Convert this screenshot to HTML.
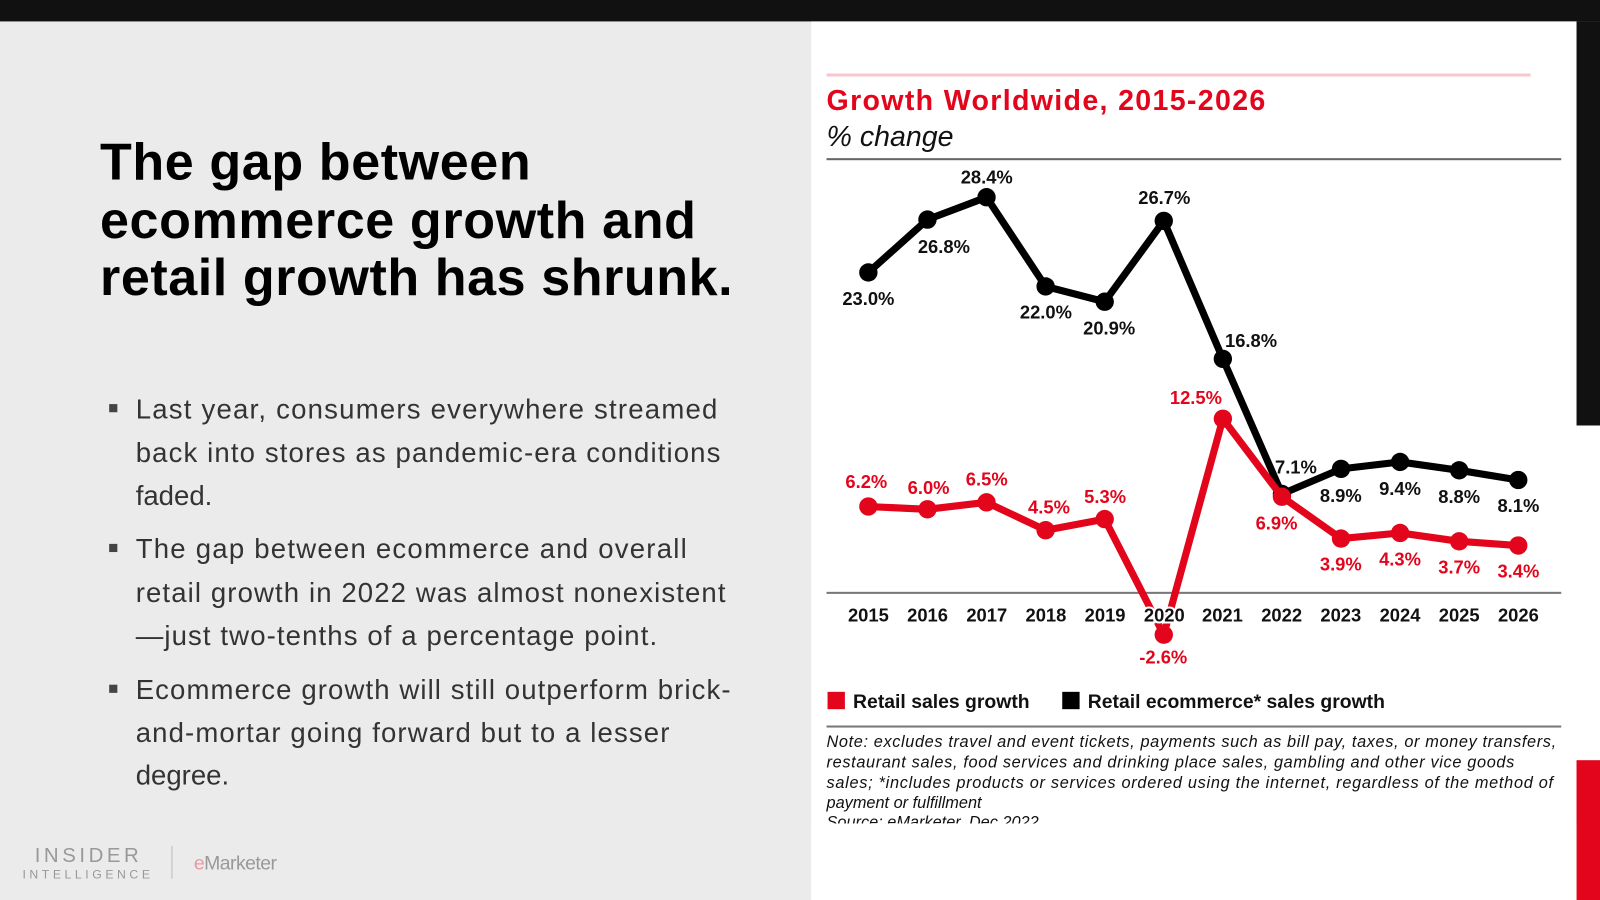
<!DOCTYPE html>
<html><head><meta charset="utf-8"><style>html,body{margin:0;padding:0;background:#ebebeb}svg{display:block}</style></head><body>
<svg width="1600" height="900" viewBox="0 0 1568 882" xmlns="http://www.w3.org/2000/svg" font-family="Liberation Sans, sans-serif">
<rect x="0" y="0" width="1568" height="882" fill="#ebebeb"/>
<rect x="0" y="0" width="1568" height="21" fill="#111"/>
<rect x="795" y="21" width="750" height="861" fill="#fff"/>
<rect x="1545" y="21" width="23" height="396" fill="#111"/>
<rect x="1545" y="417" width="23" height="328" fill="#fff"/>
<rect x="1545" y="745" width="23" height="137" fill="#e3051b"/>

<g font-weight="bold" font-size="51" fill="#000">
<text x="98" y="176" textLength="422">The gap between</text>
<text x="98" y="233" textLength="584">ecommerce growth and</text>
<text x="98" y="289" textLength="620">retail growth has shrunk.</text>
</g>
<g font-size="27" fill="#333">
<rect x="107" y="396" width="8" height="8" fill="#444"/>
<text x="133" y="410" textLength="570">Last year, consumers everywhere streamed</text>
<text x="133" y="453" textLength="573">back into stores as pandemic-era conditions</text>
<text x="133" y="495">faded.</text>
<rect x="107" y="533" width="8" height="8" fill="#444"/>
<text x="133" y="547" textLength="540">The gap between ecommerce and overall</text>
<text x="133" y="590" textLength="578">retail growth in 2022 was almost nonexistent</text>
<text x="133" y="632" textLength="511">—just two-tenths of a percentage point.</text>
<rect x="107" y="671" width="8" height="8" fill="#444"/>
<text x="133" y="685" textLength="583">Ecommerce growth will still outperform brick-</text>
<text x="133" y="727" textLength="523">and-mortar going forward but to a lesser</text>
<text x="133" y="769">degree.</text>
</g>
<g fill="#999">
<text x="34" y="845" font-size="20" textLength="102" lengthAdjust="spacing">INSIDER</text>
<text x="22" y="861" font-size="12" textLength="125" lengthAdjust="spacing">INTELLIGENCE</text>
<rect x="168" y="829" width="1" height="32" fill="#bbb"/>
<text x="190" y="852" font-size="19" fill="#e89aa0" letter-spacing="-0.5">e<tspan fill="#999">Marketer</tspan></text>
</g>

<!-- chart header -->
<rect x="810" y="72" width="690" height="3" fill="#f7c7cc"/>
<text x="810" y="108" font-size="28" font-weight="bold" fill="#e3051b" textLength="430">Growth Worldwide, 2015-2026</text>
<text x="810" y="143" font-size="28" font-style="italic" fill="#111">% change</text>
<rect x="810" y="155" width="720" height="2" fill="#666"/>

<rect x="810" y="580" width="720" height="2" fill="#777"/>

<polyline fill="none" stroke="#000" stroke-width="7" stroke-linejoin="round" points="851,267 908.9,215.2 966.8,193.3 1024.7,280.7 1082.6,295.7 1140.5,216.5 1198.4,351.7 1256.3,484.1 1314.2,459.5 1372.1,452.7 1430,460.9 1487.9,470.4"/>
<g fill="#000">
<circle cx="851" cy="267" r="9"/><circle cx="908.9" cy="215.2" r="9"/><circle cx="966.8" cy="193.3" r="9"/><circle cx="1024.7" cy="280.7" r="9"/><circle cx="1082.6" cy="295.7" r="9"/><circle cx="1140.5" cy="216.5" r="9"/><circle cx="1198.4" cy="351.7" r="9"/><circle cx="1256.3" cy="484.1" r="9"/><circle cx="1314.2" cy="459.5" r="9"/><circle cx="1372.1" cy="452.7" r="9"/><circle cx="1430" cy="460.9" r="9"/><circle cx="1487.9" cy="470.4" r="9"/>
</g>
<polyline fill="none" stroke="#e3051b" stroke-width="7" stroke-linejoin="round" points="851,496.4 908.9,499.1 966.8,492.3 1024.7,519.6 1082.6,508.7 1140.5,622 1198.4,410.4 1256.3,486.8 1314.2,527.8 1372.1,522.3 1430,530.5 1487.9,534.6"/>
<g fill="#e3051b">
<circle cx="851" cy="496.4" r="9"/><circle cx="908.9" cy="499.1" r="9"/><circle cx="966.8" cy="492.3" r="9"/><circle cx="1024.7" cy="519.6" r="9"/><circle cx="1082.6" cy="508.7" r="9"/><circle cx="1140.5" cy="622" r="9"/><circle cx="1198.4" cy="410.4" r="9"/><circle cx="1256.3" cy="486.8" r="9"/><circle cx="1314.2" cy="527.8" r="9"/><circle cx="1372.1" cy="522.3" r="9"/><circle cx="1430" cy="530.5" r="9"/><circle cx="1487.9" cy="534.6" r="9"/>
</g>

<g font-size="18" font-weight="bold" text-anchor="middle" fill="#111" stroke="#fff" stroke-width="4" paint-order="stroke">
<text x="851" y="609">2015</text><text x="909" y="609">2016</text><text x="967" y="609">2017</text><text x="1025" y="609">2018</text><text x="1083" y="609">2019</text><text x="1141" y="609">2020</text><text x="1198" y="609">2021</text><text x="1256" y="609">2022</text><text x="1314" y="609">2023</text><text x="1372" y="609">2024</text><text x="1430" y="609">2025</text><text x="1488" y="609">2026</text>
</g>
<g font-size="18" font-weight="bold" text-anchor="middle" fill="#111">
<text x="851" y="299">23.0%</text><text x="925" y="248">26.8%</text><text x="967" y="180">28.4%</text><text x="1025" y="312">22.0%</text><text x="1087" y="328">20.9%</text><text x="1141" y="200">26.7%</text><text x="1226" y="340">16.8%</text><text x="1270" y="464">7.1%</text><text x="1314" y="492">8.9%</text><text x="1372" y="485">9.4%</text><text x="1430" y="493">8.8%</text><text x="1488" y="502">8.1%</text>
</g>
<g font-size="18" font-weight="bold" text-anchor="middle" fill="#e3051b">
<text x="849" y="478">6.2%</text><text x="910" y="484">6.0%</text><text x="967" y="476">6.5%</text><text x="1028" y="503">4.5%</text><text x="1083" y="493">5.3%</text><text x="1140" y="650">-2.6%</text><text x="1172" y="396">12.5%</text><text x="1251" y="519">6.9%</text><text x="1314" y="559">3.9%</text><text x="1372" y="554">4.3%</text><text x="1430" y="562">3.7%</text><text x="1488" y="566">3.4%</text>
</g>

<rect x="811" y="678" width="17" height="17" fill="#e3051b"/>
<text x="836" y="694" font-size="19" font-weight="bold" fill="#111">Retail sales growth</text>
<rect x="1041" y="678" width="17" height="17" fill="#000"/>
<text x="1066" y="694" font-size="19" font-weight="bold" fill="#111">Retail ecommerce* sales growth</text>
<rect x="810" y="711" width="720" height="2" fill="#777"/>
<g font-size="16" font-style="italic" fill="#111">
<text x="810" y="732" textLength="715">Note: excludes travel and event tickets, payments such as bill pay, taxes, or money transfers,</text>
<text x="810" y="752" textLength="674">restaurant sales, food services and drinking place sales, gambling and other vice goods</text>
<text x="810" y="772" textLength="712">sales; *includes products or services ordered using the internet, regardless of the method of</text>
<text x="810" y="792">payment or fulfillment</text>
<text x="810" y="811">Source: eMarketer, Dec 2022</text>
</g>
<rect x="795" y="807" width="750" height="75" fill="#fff"/>
</svg>
</body></html>
